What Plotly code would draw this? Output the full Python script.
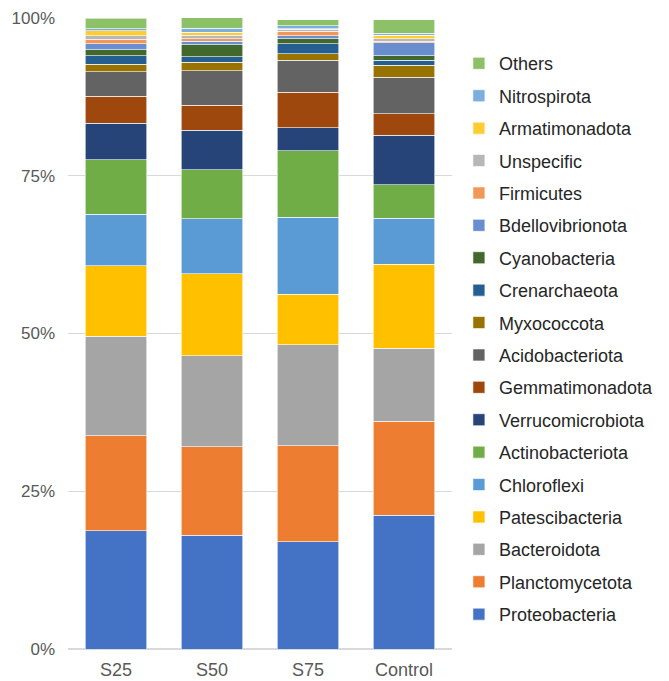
import plotly.graph_objects as go

samples = ["S25", "S50", "S75", "Control"]

# relative abundance (%), bottom of the stack first
phyla = [
    "Proteobacteria", "Planctomycetota", "Bacteroidota", "Patescibacteria",
    "Chloroflexi", "Actinobacteriota", "Verrucomicrobiota", "Gemmatimonadota",
    "Acidobacteriota", "Myxococcota", "Crenarchaeota", "Cyanobacteria",
    "Bdellovibrionota", "Firmicutes", "Unspecific", "Armatimonadota",
    "Nitrospirota", "Others",
]

s25 = [18.75, 15.05, 15.8, 11.1, 8.2, 8.6, 5.8, 4.3, 3.9, 1.2, 1.3, 1.0, 0.9, 0.7, 0.6, 0.8, 0.3, 1.7]
s50 = [18.0, 14.05, 14.4, 13.0, 8.7, 7.8, 6.3, 3.9, 5.5, 1.3, 0.9, 1.9, 0.6, 0.4, 0.5, 0.5, 0.6, 1.7]
s75 = [17.0, 15.2, 16.0, 8.05, 12.15, 10.6, 3.6, 5.6, 5.1, 1.0, 1.6, 0.8, 0.5, 0.7, 0.3, 0.1, 0.5, 0.9]
control = [21.2, 14.9, 11.6, 13.3, 7.3, 5.3, 7.8, 3.4, 5.8, 1.9, 0.8, 0.7, 2.1, 0.2, 0.4, 0.6, 0.3, 2.1]

y_ticks = [0, 25, 50, 75, 100]
y_labels = ["0%", "25%", "50%", "75%", "100%"]

colors = [
    "#4472C4", "#ED7D31", "#A5A5A5", "#FFC000", "#5B9BD5", "#70AD47",
    "#264478", "#9E480E", "#636363", "#997300", "#255E91", "#43682B",
    "#698ED0", "#F1975A", "#B7B7B7", "#FFCD33", "#7CAFDD", "#8CC168",
]

fig = go.Figure()
for i, name in enumerate(phyla):
    fig.add_trace(go.Bar(
        x=samples,
        y=[s25[i], s50[i], s75[i], control[i]],
        name=name,
        legendgroup=name,
        legendrank=len(phyla) - i,  # top of the stack first in the legend
        marker=dict(color=colors[i], line=dict(color="white", width=0.6)),
    ))

font = "Arial, Liberation Sans, sans-serif"
# the page body has an 8px margin, so the figure is 8px smaller than the window
fig.update_layout(
    barmode="stack",
    bargap=0.36,
    width=661,
    height=673,
    margin=dict(l=60, r=217, t=10, b=32),
    paper_bgcolor="white",
    plot_bgcolor="white",
    font=dict(family=font, size=18, color="#595959"),
    showlegend=True,
    legend=dict(
        traceorder="grouped",
        tracegroupgap=6,
        x=1.018, xanchor="left",
        y=0.957, yanchor="top",
        font=dict(family=font, size=18, color="#262626"),
    ),
    xaxis=dict(
        showline=False, ticks="", automargin=False,
        ticklabelstandoff=8, ticklabeloverflow="allow",
        tickfont=dict(size=18, color="#595959"),
    ),
    yaxis=dict(
        range=[0, 100],
        tickmode="array",
        tickvals=y_ticks,
        ticktext=y_labels,
        showgrid=True,
        gridcolor="#D9D9D9",
        gridwidth=1,
        zeroline=True,
        zerolinecolor="#D9D9D9",
        automargin=False,
        ticklabelstandoff=12,
        ticklabeloverflow="allow",
        tickfont=dict(size=17, color="#595959"),
    ),
)

fig.write_html("out.html")
